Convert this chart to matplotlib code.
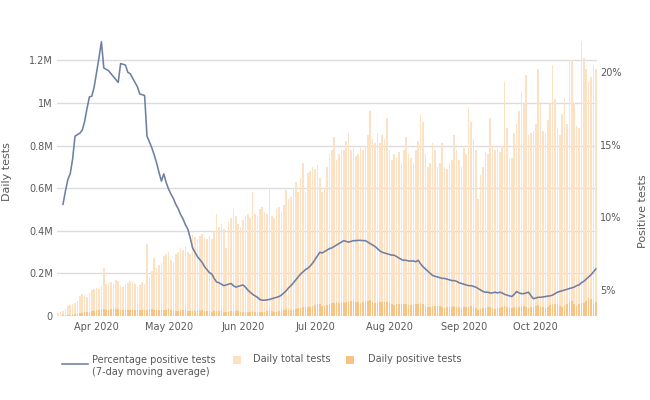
import matplotlib
matplotlib.use("Agg")
import matplotlib.pyplot as plt
import matplotlib.dates as mdates
from matplotlib.lines import Line2D
from matplotlib.patches import Rectangle
import numpy as np
import pandas as pd

# ---------------- data ----------------
bars_start = "2020-03-16"
line_start = "2020-03-18"

# Daily total tests (thousands), Mar 16 .. Oct 26
daily_total_k = [
    12, 18, 25, 35, 45, 50, 55,
    62, 70, 95, 105, 100, 90, 110,
    120, 125, 130, 128, 140, 225, 150,
    155, 160, 148, 170, 165, 140, 135,
    150, 155, 165, 160, 150, 135, 145,
    160, 150, 340, 180, 210, 270, 225,
    240, 250, 280, 290, 300, 265, 255,
    290, 300, 320, 310, 330, 300, 290,
    380, 370, 360, 375, 385, 365, 360,
    375, 360, 400, 480, 420, 430, 410,
    320, 440, 460, 500, 470, 430, 420,
    450, 470, 480, 460, 580, 480, 470,
    500, 510, 490, 480, 600, 470, 460,
    500, 510, 490, 520, 590, 550, 560,
    600, 630, 580, 650, 720, 580, 670,
    680, 700, 690, 710, 650, 580, 600,
    700, 760, 780, 840, 730, 760, 780,
    780, 820, 860, 780, 790, 750, 760,
    790, 780, 800, 850, 960, 830, 810,
    860, 810, 850, 830, 930, 780, 730,
    760, 740, 770, 720, 780, 840, 760,
    740, 720, 780, 820, 950, 910, 760,
    700, 720, 810, 780, 700, 720, 810,
    700, 690, 720, 730, 850, 780, 730,
    700, 790, 760, 980, 910, 830, 780,
    550, 660, 700, 770, 760, 930, 800,
    780, 790, 770, 800, 1100, 880, 740,
    740, 860, 900, 960, 1050, 1000, 1130,
    850, 860, 870, 900, 1160, 1000, 870,
    860, 920, 1000, 1180, 1020, 880, 850,
    950, 1020, 900, 1200, 1200, 1000, 890,
    880, 1290, 1210, 1160, 1100, 1120, 1180,
    1160,
]

# Daily positive tests (thousands), Mar 16 .. Oct 26
daily_positive_k = [
    1, 2, 3, 4, 6, 7, 8,
    9, 11, 13, 16, 17, 18, 19,
    22, 25, 27, 29, 31, 34, 30,
    30, 31, 32, 33, 34, 30, 28,
    27, 29, 30, 31, 30, 28, 27,
    28, 27, 30, 32, 33, 30, 28,
    26, 27, 29, 30, 31, 28, 26,
    24, 25, 27, 28, 27, 25, 24,
    22, 23, 24, 25, 26, 24, 23,
    22, 21, 23, 25, 24, 22, 21,
    19, 20, 22, 23, 24, 22, 21,
    20, 21, 20, 21, 23, 21, 19,
    18, 19, 20, 22, 24, 22, 20,
    21, 23, 25, 27, 31, 30, 28,
    30, 34, 37, 39, 44, 43, 41,
    42, 46, 50, 54, 55, 48, 46,
    50, 57, 60, 63, 66, 62, 60,
    62, 66, 68, 70, 72, 66, 64,
    63, 65, 70, 72, 74, 68, 62,
    60, 64, 66, 68, 67, 60, 55,
    52, 55, 56, 57, 58, 55, 50,
    50, 52, 54, 55, 60, 56, 48,
    42, 44, 46, 47, 48, 45, 42,
    38, 40, 42, 44, 46, 44, 40,
    36, 40, 41, 44, 46, 42, 38,
    30, 33, 36, 38, 42, 40, 37,
    34, 36, 39, 42, 48, 43, 38,
    37, 40, 43, 44, 49, 45, 42,
    36, 40, 43, 45, 52, 49, 40,
    38, 44, 50, 56, 57, 52, 46,
    44, 50, 57, 64, 69, 57, 48,
    58, 62, 63, 71, 83, 78, 62,
    66,
]

# Percentage positive tests, 7-day moving average, Mar 18 .. Oct 26
pct_positive = [
    10.9, 11.8, 12.6, 13.0, 14.0, 15.6, 15.7, 15.8, 16.0, 16.6, 17.5, 18.3, 18.35, 19.0,
    20.0, 21.0, 22.1, 20.3, 20.2, 20.1, 19.9, 19.7, 19.5, 19.3,
    20.6, 20.55, 20.5, 20.0, 19.9, 19.6, 19.3, 19.0, 18.5, 18.45,
    18.4, 15.6, 15.2, 14.8, 14.3, 13.75, 13.1, 12.5, 13.0, 12.4,
    11.95, 11.6, 11.3, 10.9, 10.6, 10.2, 9.9, 9.5, 9.2, 8.6,
    7.9, 7.6, 7.3, 7.1, 6.9, 6.6, 6.4, 6.2, 6.1, 5.8,
    5.55, 5.5, 5.4, 5.3, 5.35, 5.4, 5.45, 5.3, 5.2, 5.25, 5.3,
    5.35, 5.2, 5.0, 4.85, 4.7, 4.6, 4.5, 4.35, 4.3, 4.3,
    4.32, 4.35, 4.4, 4.45, 4.5, 4.55, 4.65, 4.8, 4.95, 5.15,
    5.3, 5.5, 5.7, 5.9, 6.1, 6.25, 6.4, 6.5, 6.65, 6.85,
    7.1, 7.35, 7.6, 7.55, 7.65, 7.75, 7.85, 7.9, 8.0, 8.1,
    8.2, 8.3, 8.4, 8.35, 8.3, 8.35, 8.4, 8.4, 8.42, 8.42,
    8.4, 8.4, 8.3, 8.2, 8.1, 8.0, 7.85, 7.7, 7.6, 7.55, 7.5,
    7.45, 7.4, 7.4, 7.3, 7.2, 7.1, 7.05, 7.05, 7.0, 7.0,
    7.0, 6.95, 7.05, 6.8, 6.6, 6.45, 6.3, 6.15, 6.0, 5.95,
    5.9, 5.85, 5.8, 5.8, 5.75, 5.7, 5.65, 5.65, 5.6, 5.5, 5.45,
    5.4, 5.35, 5.3, 5.3, 5.25, 5.2, 5.1, 5.0, 4.9, 4.85,
    4.85, 4.8, 4.8, 4.85, 4.8, 4.85, 4.8, 4.7, 4.65, 4.6,
    4.55, 4.7, 4.9, 4.8, 4.75, 4.75, 4.8, 4.85, 4.6, 4.4,
    4.45, 4.5, 4.5, 4.52, 4.55, 4.58, 4.6, 4.65, 4.75, 4.85,
    4.9, 4.95, 5.0, 5.05, 5.1, 5.15, 5.2, 5.3, 5.35, 5.5,
    5.6, 5.75, 5.9, 6.05, 6.25, 6.45,
]

left_ticks = [0, 200000, 400000, 600000, 800000, 1000000, 1200000]
left_ticklabels = ["0", "0.2M", "0.4M", "0.6M", "0.8M", "1M", "1.2M"]
right_ticks = [5, 10, 15, 20]
right_ticklabels = ["5%", "10%", "15%", "20%"]

legend_line_label = "Percentage positive tests\n(7-day moving average)"
legend_total_label = "Daily total tests"
legend_pos_label = "Daily positive tests"
left_title = "Daily tests"
right_title = "Positive tests"

# ---------------- style ----------------
C_TOTAL = "#fde1c4"
C_POS = "#f8c385"
C_LINE = "#6e80a2"
C_TEXT = "#595959"
C_GRID = "#dcdcdc"

plt.rcParams["font.family"] = ["DejaVu Sans"]

fig = plt.figure(figsize=(6.5, 4.0), dpi=100)
ax = fig.add_axes([57 / 650, 1 - 316 / 400, 540 / 650, 277 / 400])

bar_dates = pd.date_range(bars_start, periods=len(daily_total_k), freq="D")
line_dates = pd.date_range(line_start, periods=len(pct_positive), freq="D")
total = np.array(daily_total_k) * 1000
pos = np.array(daily_positive_k) * 1000

ax.bar(bar_dates, total, width=0.72, color=C_TOTAL, linewidth=0, zorder=2)
ax.bar(bar_dates, pos, width=0.72, color=C_POS, linewidth=0, zorder=3)

ax.set_ylim(0, 1.3e6)
ax.set_yticks(left_ticks)
ax.set_yticklabels(left_ticklabels)
ax.grid(axis="y", color=C_GRID, linewidth=1.0, zorder=0)
ax.set_axisbelow(True)
x0 = pd.Timestamp(bars_start) - pd.Timedelta(hours=12)
x1 = pd.Timestamp(bar_dates[-1]) + pd.Timedelta(hours=12)
ax.set_xlim(x0, x1)
ax.xaxis.set_major_locator(mdates.MonthLocator(bymonth=range(4, 11)))
ax.xaxis.set_major_formatter(mdates.DateFormatter("%b %Y"))

ax2 = ax.twinx()
ax2.plot(line_dates, pct_positive, color=C_LINE, linewidth=1.15, zorder=5)
ax2.set_ylim(3.21, 22.29)
ax2.set_yticks(right_ticks)
ax2.set_yticklabels(right_ticklabels)

for a in (ax, ax2):
    for s in a.spines.values():
        s.set_visible(False)
    a.tick_params(length=0, labelsize=7, colors=C_TEXT)
ax.tick_params(axis="y", pad=3)
ax.tick_params(axis="x", pad=4)
ax2.tick_params(axis="y", pad=2)

ax.set_ylabel(left_title, fontsize=8, color=C_TEXT)
ax.yaxis.set_label_coords(-0.083, 0.52)
ax2.set_ylabel(right_title, fontsize=8, color=C_TEXT, rotation=90)
ax2.yaxis.set_label_coords(1.076, 0.38)

# ---------------- legend (drawn manually) ----------------
W, H = 650.0, 400.0
def fx(px):
    return px / W
def fy(py):
    return 1 - py / H

fig.add_artist(Line2D([fx(62), fx(88)], [fy(364), fy(364)], color=C_LINE, linewidth=1.15))
fig.text(fx(92), fy(366), legend_line_label, fontsize=7, color=C_TEXT,
         va="center", ha="left", linespacing=1.3)
fig.add_artist(Rectangle((fx(233), fy(364)), fx(8), 8 / H, color=C_TOTAL, linewidth=0))
fig.text(fx(253), fy(359), legend_total_label, fontsize=7, color=C_TEXT, va="center", ha="left")
fig.add_artist(Rectangle((fx(346), fy(364)), fx(8), 8 / H, color=C_POS, linewidth=0))
fig.text(fx(368), fy(359), legend_pos_label, fontsize=7, color=C_TEXT, va="center", ha="left")

fig.savefig("out.png", dpi=100)
